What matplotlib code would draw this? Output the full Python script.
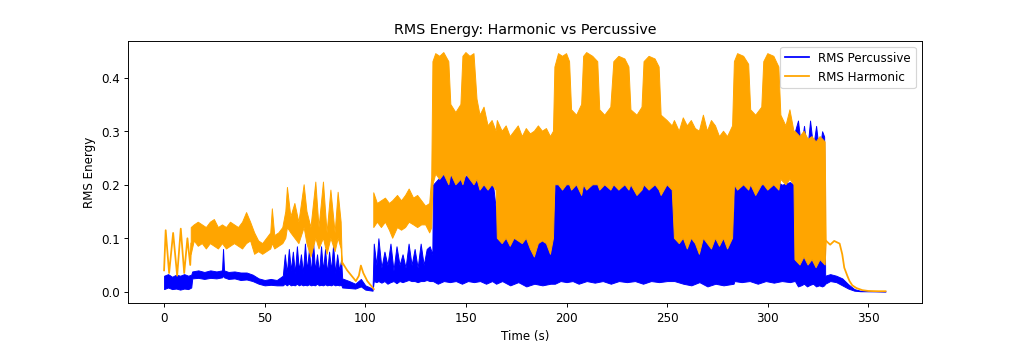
import matplotlib.pyplot as plt
import numpy as np

# percussive RMS: envelope of the dense trace (time, lower, upper)
perc_t = [0, 2, 4, 6, 8, 10, 12, 13.5, 14, 17,
          20, 23, 26, 28.8, 29.3, 29.8, 32, 35, 38, 41,
          44, 47, 50, 53, 56, 59, 60, 61, 62, 63,
          64, 65, 66, 67, 68, 69, 70, 71, 72, 73,
          74, 75, 76, 77, 78, 79, 80, 81, 82, 83,
          84, 85, 86, 87, 88, 88.5, 92, 95, 97.8, 100,
          103.6, 104.2, 105.5, 106.5, 108, 109.5, 111, 112.5, 114, 115.5,
          117, 118.5, 120, 121.5, 123, 124.5, 126, 127.5, 129, 130.5,
          132, 133.3, 133.6, 136, 139, 142, 145, 148, 151, 154,
          157, 160, 163, 165, 168, 172, 176, 180, 184, 188,
          192, 193.8, 194.2, 197, 200, 203, 206, 210, 214, 218,
          222, 226, 230, 234, 238, 242, 246, 250, 253.2, 253.6,
          258, 262, 266, 270, 274, 278, 283, 283.4, 287, 291,
          295, 299, 303, 307, 311, 313.2, 313.5, 315, 316.5, 318,
          319.5, 321, 322.5, 324, 325.5, 327, 328, 328.5, 331, 334,
          337, 340, 343, 346, 358.5]
perc_lo = [0.005, 0.008, 0.005, 0.006, 0.004, 0.006, 0.005, 0.008, 0.025, 0.026,
           0.024, 0.026, 0.025, 0.027, 0.03, 0.027, 0.024, 0.025, 0.022, 0.023,
           0.02, 0.015, 0.012, 0.013, 0.012, 0.012, 0.015, 0.012, 0.015, 0.012,
           0.013, 0.012, 0.015, 0.012, 0.014, 0.012, 0.013, 0.012, 0.014, 0.012,
           0.013, 0.012, 0.015, 0.012, 0.013, 0.012, 0.014, 0.012, 0.013, 0.012,
           0.014, 0.012, 0.013, 0.012, 0.013, 0.008, 0.007, 0.006, 0.01, 0.004,
           0.002, 0.02, 0.018, 0.02, 0.017, 0.02, 0.015, 0.018, 0.02, 0.016,
           0.02, 0.018, 0.02, 0.022, 0.02, 0.02, 0.018, 0.02, 0.02, 0.022,
           0.02, 0.02, 0.02, 0.015, 0.02, 0.018, 0.02, 0.015, 0.02, 0.018,
           0.02, 0.015, 0.02, 0.015, 0.02, 0.012, 0.018, 0.01, 0.015, 0.012,
           0.015, 0.015, 0.015, 0.02, 0.018, 0.02, 0.015, 0.02, 0.017, 0.02,
           0.015, 0.02, 0.018, 0.02, 0.015, 0.02, 0.018, 0.02, 0.02, 0.02,
           0.015, 0.012, 0.018, 0.01, 0.015, 0.012, 0.015, 0.02, 0.018, 0.02,
           0.015, 0.02, 0.017, 0.02, 0.018, 0.02, 0.02, 0.01, 0.012, 0.015,
           0.01, 0.013, 0.015, 0.01, 0.012, 0.01, 0.012, 0.015, 0.02, 0.018,
           0.012, 0.006, 0.002, 0.001, 0.0005]
perc_hi = [0.03, 0.033, 0.028, 0.032, 0.03, 0.033, 0.03, 0.032, 0.038, 0.04,
           0.037, 0.04, 0.038, 0.04, 0.08, 0.04, 0.037, 0.038, 0.036, 0.036,
           0.032, 0.025, 0.022, 0.024, 0.022, 0.03, 0.07, 0.035, 0.08, 0.04,
           0.075, 0.035, 0.085, 0.04, 0.07, 0.035, 0.09, 0.04, 0.08, 0.035,
           0.095, 0.04, 0.07, 0.035, 0.085, 0.04, 0.08, 0.035, 0.075, 0.04,
           0.088, 0.035, 0.07, 0.04, 0.06, 0.025, 0.02, 0.015, 0.024, 0.012,
           0.006, 0.09, 0.05, 0.1, 0.045, 0.075, 0.05, 0.09, 0.04, 0.085,
           0.05, 0.07, 0.045, 0.09, 0.05, 0.08, 0.045, 0.09, 0.05, 0.08,
           0.085, 0.07, 0.2, 0.21, 0.22, 0.215, 0.225, 0.21, 0.22, 0.215,
           0.22, 0.21, 0.215, 0.15, 0.15, 0.15, 0.15, 0.15, 0.15, 0.15,
           0.15, 0.15, 0.21, 0.215, 0.22, 0.21, 0.215, 0.21, 0.22, 0.205,
           0.215, 0.21, 0.22, 0.21, 0.215, 0.205, 0.21, 0.215, 0.21, 0.15,
           0.15, 0.15, 0.15, 0.15, 0.15, 0.15, 0.15, 0.2, 0.21, 0.2,
           0.205, 0.2, 0.21, 0.2, 0.205, 0.2, 0.3, 0.32, 0.27, 0.31,
           0.26, 0.32, 0.27, 0.31, 0.26, 0.3, 0.29, 0.03, 0.033, 0.03,
           0.025, 0.014, 0.005, 0.002, 0.001]

# harmonic RMS: single trace where it is sparse (nan splits the pieces) ...
harm_line_t = [0, 0.8, 2.5, 4.5, 6.5, 8.3, 10, 11.6, 13, 13.5, np.nan,
               88.5, 91, 95.3, 96.8, 97.8, 99, 101, 103.6, 104.2, np.nan,
               329, 331, 333, 335.7, 337, 338, 339.5, 340.6, 342, 344, 347, 350, 355, 358.5]
harm_line_v = [0.04, 0.115, 0.035, 0.11, 0.03, 0.118, 0.035, 0.1, 0.05, 0.09, np.nan,
               0.055, 0.04, 0.02, 0.03, 0.049, 0.035, 0.02, 0.008, 0.005, np.nan,
               0.095, 0.088, 0.095, 0.09, 0.07, 0.045, 0.03, 0.02, 0.012, 0.007, 0.003, 0.0015,
               0.001, 0.001]

# ... and an envelope (time, lower, upper) where it is dense
harm_band_t = [13.5, 15, 17, 19, 21, 23, 25, 27, 29, 31,
               33, 35, 37, 39, 41, 43, 45, 47, 49, 51,
               53, 53.8, 55, 57, 59, 60.5, 61.3, 63, 65, 67,
               69.6, 71, 73, 75.4, 77, 79.2, 81, 82.9, 85, 86.5,
               88, 88.5, np.nan,
               104.2, 106, 108, 110, 112, 113.6, 116, 118, 120, 121.8, 124, 126, 128, 130, 132,
               133, 133.6, 135, 137, 139, 141.5, 142.5, 145, 147.5, 148.5, 150, 152, 154, 155.5,
               157, 159, 161, 163, 165, 165.6, 168, 170, 172, 174, 176, 178, 180, 182, 184, 186,
               188, 190, 192, 193.5, 194.2, 196, 198, 200, 201.5, 202.5, 205, 207.5, 208.5, 210,
               213, 215.5, 216.5, 219, 222, 223.5, 226, 229, 231, 232, 235, 237.5, 238.5, 241,
               244, 246, 247, 250, 252.5, 253.6, 256, 258, 260, 262, 264, 266, 268, 270, 272, 274,
               276, 278, 280, 282.5, 283.4, 285, 288, 290.5, 291.5, 294, 297, 298, 300, 303,
               305.5, 306.5, 309, 311, 313, 313.5, 316, 318, 320, 322, 324, 326, 328.5, 329]
harm_band_lo = [0.07, 0.095, 0.085, 0.09, 0.08, 0.09, 0.085, 0.08, 0.09, 0.08,
                0.085, 0.09, 0.085, 0.08, 0.09, 0.095, 0.07, 0.075, 0.07, 0.075,
                0.08, 0.09, 0.08, 0.085, 0.09, 0.1, 0.12, 0.11, 0.1, 0.09,
                0.12, 0.09, 0.065, 0.1, 0.08, 0.1, 0.07, 0.1, 0.075, 0.1,
                0.08, 0.05, np.nan,
                0.12, 0.13, 0.12, 0.13, 0.115, 0.1, 0.12, 0.115, 0.12, 0.13, 0.125, 0.12, 0.125,
                0.125, 0.11, 0.12, 0.2, 0.22, 0.21, 0.22, 0.2, 0.22, 0.2, 0.21, 0.2, 0.22, 0.21,
                0.2, 0.21, 0.19, 0.2, 0.19, 0.2, 0.19, 0.1, 0.09, 0.1, 0.085, 0.1, 0.095, 0.09,
                0.1, 0.08, 0.065, 0.09, 0.095, 0.09, 0.07, 0.1, 0.2, 0.2, 0.19, 0.2, 0.2, 0.19,
                0.2, 0.18, 0.2, 0.19, 0.2, 0.2, 0.19, 0.2, 0.19, 0.2, 0.19, 0.2, 0.19, 0.2, 0.18,
                0.19, 0.2, 0.19, 0.2, 0.19, 0.18, 0.2, 0.19, 0.1, 0.09, 0.1, 0.08, 0.1, 0.09, 0.07,
                0.1, 0.09, 0.08, 0.1, 0.085, 0.1, 0.08, 0.1, 0.2, 0.19, 0.2, 0.19, 0.2, 0.18, 0.2,
                0.2, 0.19, 0.2, 0.19, 0.21, 0.2, 0.21, 0.2, 0.06, 0.05, 0.065, 0.05, 0.06, 0.045,
                0.06, 0.05, 0.09]
harm_band_hi = [0.12, 0.125, 0.13, 0.125, 0.12, 0.13, 0.135, 0.12, 0.125, 0.12,
                0.13, 0.125, 0.12, 0.13, 0.148, 0.13, 0.11, 0.095, 0.09, 0.1,
                0.11, 0.155, 0.105, 0.11, 0.12, 0.15, 0.195, 0.14, 0.165, 0.13,
                0.2, 0.15, 0.12, 0.205, 0.12, 0.205, 0.11, 0.19, 0.11, 0.186,
                0.13, 0.06, np.nan,
                0.185, 0.165, 0.17, 0.175, 0.165, 0.17, 0.18, 0.17, 0.18, 0.192, 0.175, 0.18,
                0.17, 0.16, 0.165, 0.214, 0.43, 0.445, 0.44, 0.447, 0.43, 0.35, 0.335, 0.35, 0.44,
                0.447, 0.44, 0.445, 0.36, 0.33, 0.345, 0.31, 0.32, 0.3, 0.32, 0.3, 0.31, 0.29, 0.3,
                0.31, 0.29, 0.305, 0.295, 0.3, 0.31, 0.3, 0.305, 0.29, 0.3, 0.42, 0.445, 0.44,
                0.445, 0.43, 0.34, 0.33, 0.35, 0.44, 0.447, 0.44, 0.43, 0.34, 0.33, 0.345, 0.43,
                0.44, 0.435, 0.42, 0.34, 0.33, 0.345, 0.43, 0.44, 0.435, 0.42, 0.33, 0.32, 0.31,
                0.32, 0.3, 0.325, 0.31, 0.32, 0.305, 0.3, 0.33, 0.3, 0.32, 0.31, 0.29, 0.3, 0.29,
                0.31, 0.43, 0.445, 0.44, 0.425, 0.34, 0.33, 0.345, 0.43, 0.445, 0.44, 0.42, 0.33,
                0.31, 0.34, 0.3, 0.3, 0.29, 0.3, 0.285, 0.29, 0.28, 0.29, 0.28, 0.095]

fig = plt.figure(figsize=(12, 4))
plt.fill_between(perc_t, perc_lo, perc_hi, color='blue', lw=0.8)
plt.plot([], [], color='blue', label='RMS Percussive')
plt.plot(harm_line_t, harm_line_v, color='orange', label='RMS Harmonic')
plt.fill_between(harm_band_t, harm_band_lo, harm_band_hi, color='orange', lw=0.8)

# same default margins as a plain plot of the full signal
t_all = np.array(perc_t)
v_all = np.concatenate([perc_lo, np.array(harm_band_hi)[~np.isnan(harm_band_hi)]])
pad_t = 0.05 * (t_all.max() - t_all.min())
pad_v = 0.05 * (v_all.max() - v_all.min())
plt.xlim(t_all.min() - pad_t, t_all.max() + pad_t)
plt.ylim(v_all.min() - pad_v, v_all.max() + pad_v)

plt.xlabel("Time (s)")
plt.ylabel("RMS Energy")
plt.title("RMS Energy: Harmonic vs Percussive")
plt.legend(loc='upper right')
plt.savefig('out.png', dpi=1024 / 12)
